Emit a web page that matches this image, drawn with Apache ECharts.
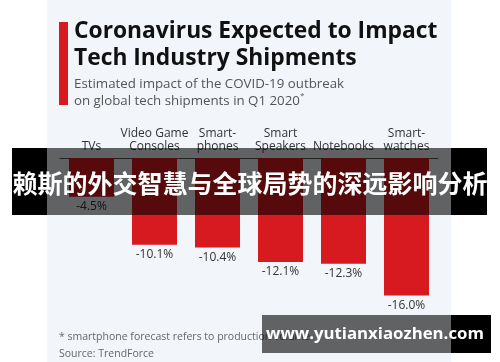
<!DOCTYPE html>
<html><head><meta charset="utf-8">
<script src="https://cdn.jsdelivr.net/npm/echarts@6/dist/echarts.min.js"></script>
<style>html,body{margin:0;padding:0;background:#fff}#c{width:500px;height:362px}</style>
</head><body><div id="c"></div>
<script>
const categories = ['TVs', 'Video Game\nConsoles', 'Smart-\nphones', 'Smart\nSpeakers', 'Notebooks', 'Smart-\nwatches'];
const impact = [-4.5, -10.1, -10.4, -12.1, -12.3, -16.0];
const titleLines = ['Coronavirus Expected to Impact', 'Tech Industry Shipments'];
const subtitleLines = ['Estimated impact of the COVID-19 outbreak', 'on global tech shipments in Q1 2020'];
const footnote = '* smartphone forecast refers to production volume';
const source = 'Source: TrendForce';
const banner = '赖斯的外交智慧与全球局势的深远影响分析';
const watermark = 'www.yutianxiaozhen.com';

const chart = echarts.init(document.getElementById('c'), null, {renderer: 'canvas'});
const F = '"Open Sans", "Noto Sans", sans-serif';
chart.setOption({
  backgroundColor: '#f2f5f9',
  animation: false,
  grid: {left: 60, right: 62, top: 158, height: 172},
  xAxis: {
    type: 'category', position: 'top', data: categories,
    axisLine: {show: true, lineStyle: {color: '#555', width: 1}},
    axisTick: {show: false},
    axisLabel: {interval: 0, color: '#333', fontFamily: F, fontSize: 12, lineHeight: 13, margin: 5}
  },
  yAxis: {type: 'value', min: -20, max: 0, show: false, splitLine: {show: false}},
  series: [{
    type: 'bar', data: impact, barWidth: 45,
    itemStyle: {color: '#d71920'},
    label: {show: true, position: 'bottom', distance: 4, color: '#333', fontFamily: F, fontSize: 12,
      formatter: p => p.value.toFixed(1) + '%'}
  }],
  graphic: [
    {type: 'rect', z: 1, shape: {x: 0, y: 0, width: 47, height: 362}, style: {fill: '#fff'}},
    {type: 'rect', z: 1, shape: {x: 451, y: 0, width: 49, height: 362}, style: {fill: '#fff'}},
    {type: 'rect', z: 5, shape: {x: 59, y: 22, width: 9, height: 83}, style: {fill: '#d71920'}},
    {type: 'text', z: 5, x: 74, y: 32, style: {text: titleLines[0], fill: '#111', font: 'bold 22.8px ' + F, textVerticalAlign: 'middle'}},
    {type: 'text', z: 5, x: 74, y: 59, style: {text: titleLines[1], fill: '#111', font: 'bold 22.8px ' + F, textVerticalAlign: 'middle'}},
    {type: 'text', z: 5, x: 74, y: 84, style: {text: subtitleLines[0], fill: '#555', font: '13.3px ' + F, textVerticalAlign: 'middle'}},
    {type: 'text', z: 5, x: 74, y: 101, style: {text: subtitleLines[1], fill: '#555', font: '13.3px ' + F, textVerticalAlign: 'middle'}},
    {type: 'text', z: 5, x: 300, y: 96, style: {text: '*', fill: '#555', font: '8px ' + F, textVerticalAlign: 'middle'}},
    {type: 'text', z: 5, x: 59, y: 337, style: {text: footnote, fill: '#666', font: '10.5px ' + F, textVerticalAlign: 'middle'}},
    {type: 'text', z: 5, x: 59, y: 354, style: {text: source, fill: '#666', font: '10.5px ' + F, textVerticalAlign: 'middle'}},
    {type: 'rect', z: 100, shape: {x: 12, y: 148, width: 35, height: 67}, style: {fill: '#000'}},
    {type: 'rect', z: 100, shape: {x: 451, y: 148, width: 36, height: 67}, style: {fill: '#000'}},
    {type: 'rect', z: 100, shape: {x: 47, y: 148, width: 404, height: 67}, style: {fill: 'rgba(0,0,0,0.6)'}},
    {type: 'text', z: 101, x: 250, y: 183, style: {text: banner, fill: '#fff', font: 'bold 25px "Noto Sans CJK SC"', textAlign: 'center', textVerticalAlign: 'middle'}},
    {type: 'rect', z: 100, shape: {x: 262, y: 315, width: 189, height: 38}, style: {fill: 'rgba(0,0,0,0.6)'}},
    {type: 'rect', z: 100, shape: {x: 451, y: 315, width: 40, height: 38}, style: {fill: '#000'}},
    {type: 'text', z: 101, x: 375, y: 334, style: {text: watermark, fill: '#fff', font: 'bold 16.8px "Open Sans", sans-serif', textAlign: 'center', textVerticalAlign: 'middle'}}
  ]
});
</script></body></html>
